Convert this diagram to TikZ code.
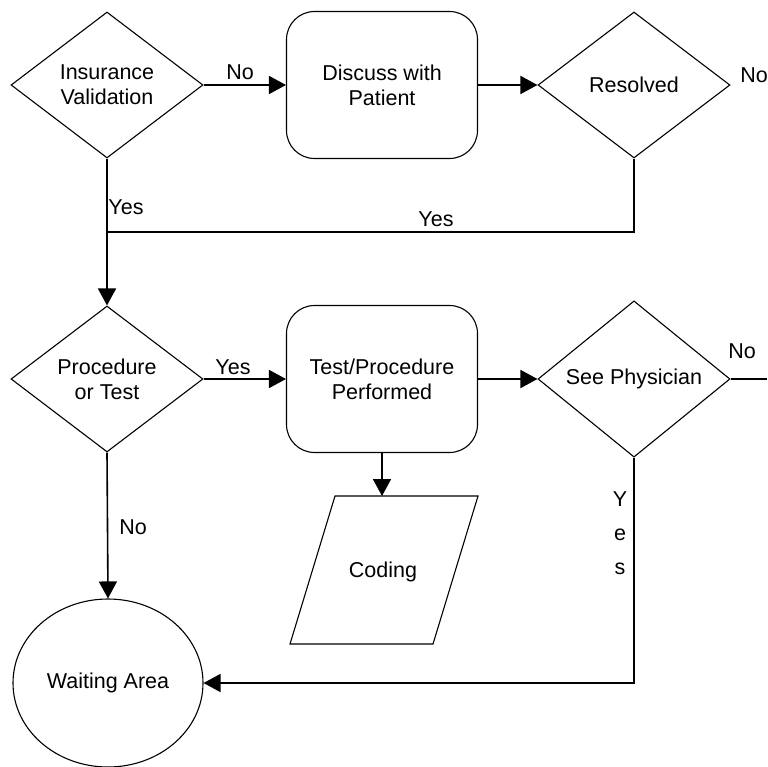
\documentclass[tikz,border=0pt]{standalone}
\usepackage{fontspec}
\setmainfont{Liberation Sans}
\usetikzlibrary{shapes.geometric,arrows.meta}
\begin{document}
\begin{tikzpicture}[x=1pt,y=-1pt,
  font=\fontsize{21.5}{25}\selectfont,
  shape line/.style={draw, line width=1.1pt},
  decision/.style={shape line, diamond, minimum width=192pt, minimum height=146pt, inner sep=0pt, align=center},
  process/.style={shape line, rectangle, rounded corners=28pt, minimum width=191pt, minimum height=147pt, align=center},
  terminal/.style={shape line, ellipse, minimum width=190pt, minimum height=168pt, inner sep=0pt},
  link/.style={line width=1.6pt},
  flow/.style={link, -{Triangle[length=17pt,width=18pt]}},
  tag/.style={inner sep=0pt}
]
\useasboundingbox (0,0) rectangle (767,767);

% decision and process nodes
\node[decision] (ins)  at (107,85)  {Insurance\\Validation};
\node[process]  (disc) at (382,85)  {Discuss with\\Patient};
\node[decision] (res)  at (634,85)  {Resolved};
\node[decision] (proc) at (107,379) {Procedure\\or Test};
\node[process]  (test) at (382,379) {Test/Procedure\\Performed};
\node[decision] (see)  at (634,379) {See Physician};
\node[terminal] (wait) at (108,683) {Waiting Area};

% coding (data) parallelogram
\draw[shape line] (290,644) -- (433,644) -- (478,496) -- (335,496) -- cycle;
\node[tag] (coding) at (383,572) {Coding};
\coordinate (codingtop) at (382,496);

% helper points
\coordinate (resturn) at (634,232);
\coordinate (merge)   at (107,232);
\coordinate (exit)    at (767,379);

% connectors
\draw[flow] (ins.east) -- (disc.west);
\draw[flow] (disc.east) -- (res.west);
\draw[link] (res.south) -- (resturn) -- (merge);
\draw[flow] (ins.south) -- (proc.north);
\draw[flow] (proc.east) -- (test.west);
\draw[flow] (test.east) -- (see.west);
\draw[link] (see.east) -- (exit);
\draw[flow] (test.south) -- (codingtop);
\draw[flow] (proc.south) -- (wait.north);
\draw[flow] (see.south) |- (wait.east);

% branch labels
\node[tag] (noA)  at (240,72)  {No};
\node[tag] (yesA) at (126,207) {Yes};
\node[tag] (yesB) at (436,219) {Yes};
\node[tag] (noB)  at (754,75)  {No};
\node[tag] (yesC) at (233,367) {Yes};
\node[tag] (noC)  at (742,351) {No};
\node[tag] (noD)  at (133,527) {No};
\node[tag, align=center, font=\fontsize{21.5}{34}\selectfont] (yesD) at (620,533) {Y\\e\\s};
\end{tikzpicture}
\end{document}
